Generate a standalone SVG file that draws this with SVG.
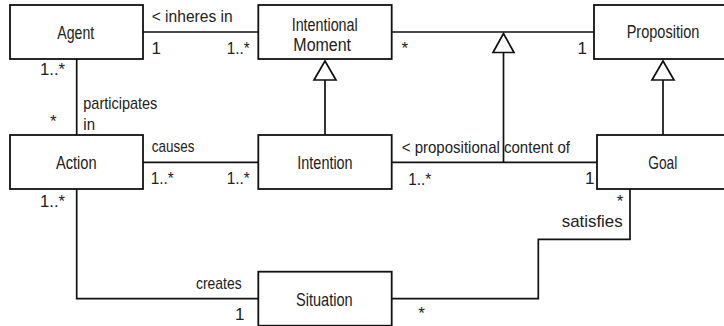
<svg xmlns="http://www.w3.org/2000/svg" width="724" height="326" viewBox="0 0 724 326">
  <style>
    .box { fill: #ffffff; stroke: #111111; stroke-width: 1.8; }
    .line { fill: none; stroke: #111111; stroke-width: 1.7; }
    .gen { fill: #ffffff; stroke: #111111; stroke-width: 1.7; stroke-linejoin: miter; }
    .name { font-family: "Liberation Sans Narrow", "Liberation Sans", Arial, sans-serif; font-size: 18.5px; fill: #222222; text-anchor: middle; }
    .two { font-size: 17.5px; }
    .lbl { font-family: "Liberation Sans Narrow", "Liberation Sans", Arial, sans-serif; font-size: 17px; fill: #222222; }
    .end { text-anchor: end; }
  </style>

  <rect width="724" height="326" fill="#ffffff"/>

  <!-- associations and generalizations -->
  <g id="connectors">
    <!-- Agent - Intentional Moment -->
    <line class="line" x1="143" y1="32" x2="258" y2="32"/>
    <!-- Intentional Moment - Proposition -->
    <line class="line" x1="392" y1="32" x2="594" y2="32"/>
    <!-- Agent - Action -->
    <line class="line" x1="76.7" y1="59" x2="76.7" y2="135"/>
    <!-- Action - Intention -->
    <line class="line" x1="143" y1="162.3" x2="258" y2="162.3"/>
    <!-- Intention - Goal -->
    <line class="line" x1="392" y1="162.3" x2="597" y2="162.3"/>
    <!-- Action - Situation -->
    <polyline class="line" points="76.7,189 76.7,298.7 258,298.7"/>
    <!-- Situation - Goal -->
    <polyline class="line" points="392,298.7 538.3,298.7 538.3,239.3 630,239.3 630,189"/>

    <!-- Intention is an Intentional Moment -->
    <line class="line" x1="325" y1="80" x2="325" y2="135"/>
    <polygon class="gen" points="325,61 314,80 336,80"/>
    <!-- Goal is a Proposition -->
    <line class="line" x1="663" y1="80" x2="663" y2="135"/>
    <polygon class="gen" points="663,61 652,80 674,80"/>
  </g>

  <!-- association labels and multiplicities -->
  <g id="labels">
    <text class="lbl" x="151.7" y="22.3" textLength="81" lengthAdjust="spacingAndGlyphs">&lt; inheres in</text>
    <text class="lbl" x="151.5" y="54">1</text>
    <text class="lbl" x="226.7" y="54" textLength="23" lengthAdjust="spacingAndGlyphs">1..*</text>
    <text class="lbl" x="401.5" y="54">*</text>
    <text class="lbl" x="577.5" y="54">1</text>

    <text class="lbl end" x="65" y="75.3" textLength="25" lengthAdjust="spacingAndGlyphs">1..*</text>
    <text class="lbl" x="83.3" y="108.5" textLength="74" lengthAdjust="spacingAndGlyphs">participates</text>
    <text class="lbl" x="83.3" y="130" textLength="11.7" lengthAdjust="spacingAndGlyphs">in</text>
    <text class="lbl" x="50" y="127">*</text>

    <text class="lbl" x="151.7" y="151.7" textLength="42.7" lengthAdjust="spacingAndGlyphs">causes</text>
    <text class="lbl" x="150.7" y="183.5" textLength="23" lengthAdjust="spacingAndGlyphs">1..*</text>
    <text class="lbl" x="226.7" y="183.5" textLength="23" lengthAdjust="spacingAndGlyphs">1..*</text>

    <text class="lbl" x="401.7" y="153.3" textLength="168.3" lengthAdjust="spacingAndGlyphs">&lt; propositional content of</text>
    <text class="lbl" x="408.3" y="184.5" textLength="23" lengthAdjust="spacingAndGlyphs">1..*</text>
    <text class="lbl" x="585" y="183.5">1</text>

    <text class="lbl end" x="65" y="207.3" textLength="25" lengthAdjust="spacingAndGlyphs">1..*</text>
    <text class="lbl" x="196" y="289.3" textLength="45.7" lengthAdjust="spacingAndGlyphs">creates</text>
    <text class="lbl" x="235" y="320">1</text>

    <text class="lbl" x="616.7" y="207">*</text>
    <text class="lbl" x="561.7" y="226.7" textLength="61" lengthAdjust="spacingAndGlyphs">satisfies</text>
    <text class="lbl" x="418.3" y="319">*</text>
  </g>

  <!-- classes -->
  <g id="agent">
    <rect class="box" x="10" y="5" width="133" height="54"/>
    <text class="name" x="75.7" y="39" textLength="37" lengthAdjust="spacingAndGlyphs">Agent</text>
  </g>
  <g id="intentional-moment">
    <rect class="box" x="258.3" y="5" width="133.4" height="54"/>
    <text class="name two" x="324.7" y="30.8" textLength="66" lengthAdjust="spacingAndGlyphs">Intentional</text>
    <text class="name two" x="322.2" y="50.5" textLength="57.7" lengthAdjust="spacingAndGlyphs">Moment</text>
  </g>
  <g id="proposition">
    <rect class="box" x="594" y="5" width="138" height="54"/>
    <text class="name" x="663" y="38" textLength="72.6" lengthAdjust="spacingAndGlyphs">Proposition</text>
  </g>
  <g id="action">
    <rect class="box" x="10" y="135" width="133" height="54"/>
    <text class="name" x="76.3" y="168.5" textLength="40.7" lengthAdjust="spacingAndGlyphs">Action</text>
  </g>
  <g id="intention">
    <rect class="box" x="258.3" y="135" width="133.4" height="54"/>
    <text class="name" x="325" y="169" textLength="55.3" lengthAdjust="spacingAndGlyphs">Intention</text>
  </g>
  <g id="goal">
    <rect class="box" x="597" y="135" width="135" height="54"/>
    <text class="name" x="662.8" y="169" textLength="29" lengthAdjust="spacingAndGlyphs">Goal</text>
  </g>
  <g id="situation">
    <rect class="box" x="258.3" y="271.7" width="133.4" height="54"/>
    <text class="name" x="324.3" y="305.7" textLength="56.7" lengthAdjust="spacingAndGlyphs">Situation</text>
  </g>

  <!-- this generalization line crosses the label text, so it is drawn last -->
  <g id="connectors-top">
    <line class="line" x1="503.5" y1="52.5" x2="503.5" y2="162.3"/>
    <polygon class="gen" points="503.5,33.5 493,52.5 514,52.5"/>
  </g>
</svg>
